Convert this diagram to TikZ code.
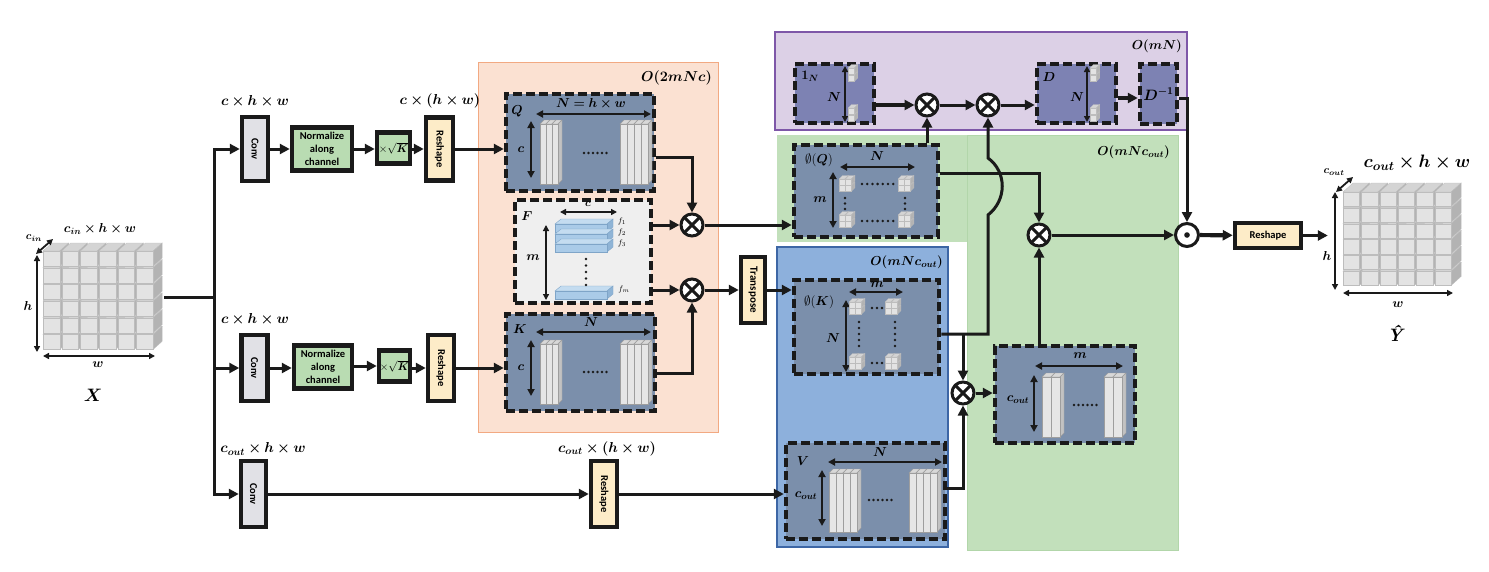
\RequirePackage{fix-cm}
\documentclass[tikz,border=0pt]{standalone}
\usepackage{amsmath}
\usepackage{bm}
\usepackage{fontspec}
\newfontfamily\calfont{Carlito}
\usetikzlibrary{arrows.meta,calc}
\definecolor{slate}{HTML}{7B8FAB}
\definecolor{pslate}{HTML}{7D82B3}
\definecolor{orangeF}{HTML}{FBE1D2}
\definecolor{orangeB}{HTML}{F2A982}
\definecolor{purpleF}{HTML}{DCD0E6}
\definecolor{purpleB}{HTML}{7E57A8}
\definecolor{blueF}{HTML}{8DB0DC}
\definecolor{blueB}{HTML}{3D66A5}
\definecolor{greenF}{HTML}{C2E0BB}
\definecolor{greenB}{HTML}{B2D6AA}
\definecolor{fgray}{HTML}{EFEFEF}
\definecolor{normF}{HTML}{B9DCB2}
\definecolor{reshF}{HTML}{FDECC8}
\definecolor{convF}{HTML}{E1E1E6}
\definecolor{cubeF}{HTML}{E3E3E3}
\definecolor{cubeT}{HTML}{D4D4D4}
\definecolor{cubeR}{HTML}{B3B3B3}
\definecolor{cubeS}{HTML}{BDBDBD}
\definecolor{plateF}{HTML}{E6E6E6}
\definecolor{plateT}{HTML}{D8D8D8}
\definecolor{plateR}{HTML}{C2C2C2}
\definecolor{plateS}{HTML}{9E9E9E}
\definecolor{flatF}{HTML}{AACBE8}
\definecolor{flatT}{HTML}{C4DCF0}
\definecolor{flatR}{HTML}{8FB4D6}
\definecolor{flatS}{HTML}{7FA5C8}
\definecolor{ink}{HTML}{1A1A1A}

\newcommand\mycubes[8]{%
 \foreach \r in {#4,...,1}{%
  \foreach \c in {1,...,#3}{%
   \pgfmathsetmacro\xa{#1+(\c-1)*#5}%
   \pgfmathsetmacro\ya{#2+(\r-1)*#6}%
   \pgfmathsetmacro\fw{#5*0.9}%
   \pgfmathsetmacro\fh{#6*0.9}%
   \path[fill=cubeT,draw=cubeS,line width=0.3pt] (\xa,\ya) -- ++(#7,-#8) -- ++(\fw,0) -- ++(-#7,#8) -- cycle;
   \path[fill=cubeR,draw=cubeS,line width=0.3pt] (\xa+\fw,\ya) -- ++(#7,-#8) -- ++(0,\fh) -- ++(-#7,#8) -- cycle;
   \path[fill=cubeF,draw=cubeS,line width=0.3pt] (\xa,\ya) rectangle ++(\fw,\fh);
 }}}

\newcommand\myplates[5]{%
 \foreach \i in {1,...,#3}{%
  \pgfmathsetmacro\xa{#1+(\i-1)*#4}%
  \path[fill=plateT,draw=plateS,line width=0.4pt] (\xa,#2+4) -- ++(4,-4) -- ++(#4,0) -- ++(-4,4) -- cycle;
  \path[fill=plateR,draw=plateS,line width=0.4pt] (\xa+#4,#2+4) -- ++(4,-4) -- ++(0,#5-4) -- ++(-4,4) -- cycle;
  \path[fill=plateF,draw=plateS,line width=0.4pt] (\xa,#2+4) rectangle ++(#4,#5-4);
 }}

\newcommand\myflat[3]{%
  \path[fill=flatT,draw=flatS,line width=0.4pt] (#1,#2) -- ++(6,-5) -- ++(#3,0) -- ++(-6,5) -- cycle;
  \path[fill=flatR,draw=flatS,line width=0.4pt] (#1+#3,#2) -- ++(6,-5) -- ++(0,8) -- ++(-6,5) -- cycle;
  \path[fill=flatF,draw=flatS,line width=0.4pt] (#1,#2) rectangle ++(#3,8);
}

\begin{document}
\begin{tikzpicture}[x=1pt,y=-1pt,
  conn/.style={draw=ink,line width=3pt},
  thickconn/.style={draw=ink,line width=4.2pt},
  arr/.style={-{Triangle[length=10pt,width=10pt]}},
  sbox/.style={draw=ink,line width=4.5pt,inner sep=0pt},
  dbox/.style={draw=ink,line width=4.5pt,dash pattern=on 9pt off 4pt,fill=slate,inner sep=0pt},
  dim/.style={draw=ink,line width=2.1pt,{Triangle[length=7pt,width=7pt]}-{Triangle[length=7pt,width=7pt]}},
  thindim/.style={draw=ink,line width=1.3pt,{Triangle[length=6pt,width=6pt]}-{Triangle[length=6pt,width=6pt]}},
  ml/.style={inner sep=0pt,font=\fontsize{13}{13}\selectfont},
  bigl/.style={inner sep=0pt,font=\fontsize{14.4}{14.4}\selectfont},
  rtxt/.style={inner sep=0pt,rotate=-90,font=\calfont\bfseries\fontsize{10.5}{10.5}\selectfont},
  otimes/.style={circle,draw=ink,line width=3pt,minimum size=22pt,inner sep=0pt,fill=white,
    path picture={\draw[ink,line width=3pt] (path picture bounding box.north west) -- (path picture bounding box.south east)
      (path picture bounding box.north east) -- (path picture bounding box.south west);}},
  odotst/.style={circle,draw=ink,line width=3pt,minimum size=23pt,inner sep=0pt,fill=white,
    path picture={\fill[ink] (path picture bounding box.center) circle (2.8pt);}}
]
\useasboundingbox (0,0) rectangle (1489,571);

% ---------- regions
\path[fill=orangeF,draw=orangeB,line width=1pt] (478,62) rectangle (718,432);
\path[fill=greenF] (777,135) rectangle (1178,242);
\path[fill=greenF,draw=greenB,line width=1pt] (967,135) rectangle (1178,550);
\path[fill=purpleF,draw=purpleB,line width=1.2pt] (775,32) rectangle (1187,130);
\path[fill=blueF,draw=blueB,line width=1.2pt] (777,247) rectangle (948,547);
\node[bigl,anchor=east] (lo1) at (712,78) {$\bm{O(2mNc)}$};
\node[ml,anchor=east] (lo2) at (1182,46) {$\bm{O(mN)}$};
\node[ml,anchor=east] (lo3) at (1170,152) {$\bm{O(mNc_{out})}$};
\node[ml,anchor=east] (lo4) at (943,262) {$\bm{O(mNc_{out})}$};

% ---------- input cube
\mycubes{43}{251}{6}{6}{18.67}{16.67}{9}{8}
\node[inner sep=0pt,minimum width=121pt,minimum height=107pt] (inp) at (103.5,297) {};
\draw[thindim,line width=1.8pt] (37,255) -- (37,352);
\draw[thindim,line width=1.8pt] (43,356) -- (155,356);
\draw[thindim,line width=1.8pt] (36,254) -- (53,239);
\node[ml] (lh1) at (28,306) {$\bm{h}$};
\node[ml] (lw1) at (98,365) {$\bm{w}$};
\node[ml] (lc1) at (100,229) {$\bm{c_{in}\times h\times w}$};
\node[ml,font=\fontsize{11}{11}\selectfont] (lci) at (34,238) {$\bm{c_{in}}$};
\node[inner sep=0pt,font=\fontsize{18}{18}\selectfont] (lX) at (93,395) {$\bm{X}$};

% ---------- trunk
\coordinate (tr) at (214,297);
\draw[conn] (inp.east) -- (tr);

% row 1
\node[sbox,fill=convF,minimum width=26pt,minimum height=64pt] (conv1) at (255,149) {};
\node[rtxt] (conv1t) at (conv1) {Conv};
\node[sbox,fill=normF,minimum width=60pt,minimum height=43pt,align=center,
  font=\calfont\bfseries\fontsize{10.5}{13}\selectfont] (norm1) at (322,149) {Normalize\\along\\channel};
\node[sbox,fill=normF,minimum width=33pt,minimum height=31pt,font=\fontsize{11}{11}\selectfont] (sk1) at (393.5,148) {$\times\sqrt{\bm{K}}$};
\node[sbox,fill=reshF,minimum width=27pt,minimum height=63pt] (resh1) at (439.5,149) {};
\node[rtxt] (resh1t) at (resh1) {Reshape};
\node[bigl] (l1a) at (255,101) {$\bm{c\times h\times w}$};
\node[bigl] (l1b) at (440,101) {$\bm{c\times(h\times w)}$};

% row 2
\node[sbox,fill=convF,minimum width=26pt,minimum height=66pt] (conv2) at (254.5,368) {};
\node[rtxt] (conv2t) at (conv2) {Conv};
\node[sbox,fill=normF,minimum width=58pt,minimum height=43pt,align=center,
  font=\calfont\bfseries\fontsize{10.5}{13}\selectfont] (norm2) at (323,367) {Normalize\\along\\channel};
\node[sbox,fill=normF,minimum width=31pt,minimum height=31pt,font=\fontsize{11}{11}\selectfont] (sk2) at (394.5,366) {$\times\sqrt{\bm{K}}$};
\node[sbox,fill=reshF,minimum width=26pt,minimum height=66pt] (resh2) at (441,368) {};
\node[rtxt] (resh2t) at (resh2) {Reshape};
\node[bigl] (l2a) at (255,319) {$\bm{c\times h\times w}$};

% row 3
\node[sbox,fill=convF,minimum width=25pt,minimum height=66pt] (conv3) at (253.5,494) {};
\node[rtxt] (conv3t) at (conv3) {Conv};
\node[sbox,fill=reshF,minimum width=26pt,minimum height=66pt] (resh3) at (604,494) {};
\node[rtxt] (resh3t) at (resh3) {Reshape};
\node[bigl] (l3a) at (263,449) {$\bm{c_{out}\times h\times w}$};
\node[bigl] (l3b) at (607,449) {$\bm{c_{out}\times(h\times w)}$};

% ---------- Q, F, K
\node[dbox,minimum width=148pt,minimum height=97pt] (Q) at (580,142.5) {};
\node[dbox,fill=fgray,minimum width=136pt,minimum height=103pt] (F) at (583,251.5) {};
\node[dbox,minimum width=149pt,minimum height=97pt] (K) at (580.5,362.5) {};

% Q content
\node[ml] (tq) at (517,111) {$\bm{Q}$};
\draw[dim] (536,114) -- (651,114);
\node[ml] (tqn) at (591,104) {$\bm{N=h\times w}$};
\draw[dim] (531,121) -- (531,178);
\node[ml] (tqc) at (521,150) {$\bm{c}$};
\myplates{540}{120}{3}{6}{64}
\myplates{620}{120}{4}{7}{64}
\foreach \k in {0,...,5} \fill[ink] (584+\k*4.5,153) circle (1.4pt);

% F content
\node[ml] (tf) at (527,216) {$\bm{F}$};
\draw[thindim,line width=1.7pt] (560,212) -- (617,212);
\node[ml,font=\fontsize{11}{11}\selectfont] (tfc) at (588,204) {$\bm{c}$};
\draw[thindim] (546,225) -- (546,300);
\node[ml] (tfm) at (533,258) {$\bm{m}$};
\myflat{555}{224}{52}
\myflat{555}{234}{52}
\myflat{555}{244}{52}
\myflat{555}{291}{52}
\foreach \k in {0,...,4} \fill[ink] (586,259+\k*6.5) circle (1.4pt);
\node[inner sep=0pt,font=\fontsize{8}{8}\selectfont] (f1) at (622,221) {$f_1$};
\node[inner sep=0pt,font=\fontsize{8}{8}\selectfont] (f2) at (622,232) {$f_2$};
\node[inner sep=0pt,font=\fontsize{8}{8}\selectfont] (f3) at (622,243) {$f_3$};
\node[inner sep=0pt,font=\fontsize{8}{8}\selectfont] (fm) at (624,289) {$f_m$};

% K content
\node[ml] (tk) at (520,329) {$\bm{K}$};
\draw[dim] (536,332) -- (651,332);
\node[ml] (tkn) at (591,322) {$\bm{N}$};
\draw[dim] (531,340) -- (531,396);
\node[ml] (tkc) at (521,368) {$\bm{c}$};
\myplates{540}{340}{3}{6}{64}
\myplates{620}{340}{4}{7}{64}
\foreach \k in {0,...,5} \fill[ink] (584+\k*4.5,372) circle (1.4pt);

\node[otimes] (ot1) at (692,225) {};
\node[otimes] (ot2) at (692,290) {};
\node[sbox,fill=reshF,minimum width=24pt,minimum height=66pt] (tp) at (753,290) {};
\node[rtxt,font=\calfont\bfseries\fontsize{11}{11}\selectfont] (tpt) at (tp) {Transpose};

% ---------- purple
\node[dbox,fill=pslate,minimum width=79pt,minimum height=59pt] (oneN) at (834.5,93.5) {};
\node[ml] (t1n) at (810,76) {$\bm{1}_{\bm{N}}$};
\draw[thindim,line width=1.6pt] (845,66) -- (845,122);
\node[ml] (t1nn) at (834,97) {$\bm{N}$};
\mycubes{848}{68}{1}{2}{7}{7}{3.5}{3.5}
\mycubes{848}{108}{1}{2}{7}{7}{3.5}{3.5}
\node[otimes] (ota) at (927,105) {};
\node[otimes] (otb) at (988,105) {};
\node[dbox,fill=pslate,minimum width=79pt,minimum height=59pt] (D) at (1076.5,93.5) {};
\node[ml] (td) at (1049,77) {$\bm{D}$};
\draw[thindim,line width=1.6pt] (1087,66) -- (1087,122);
\node[ml] (tdn) at (1077,97) {$\bm{N}$};
\mycubes{1090}{68}{1}{2}{7}{7}{3.5}{3.5}
\mycubes{1090}{108}{1}{2}{7}{7}{3.5}{3.5}
\node[dbox,fill=pslate,minimum width=37pt,minimum height=60pt,font=\fontsize{15}{15}\selectfont] (Dinv) at (1158.5,94) {$\bm{D^{-1}}$};

% ---------- phi(Q)
\node[dbox,minimum width=144pt,minimum height=92pt] (phiQ) at (866,191) {};
\node[ml] (tpq) at (819,160) {$\emptyset(\bm{Q})$};
\draw[dim] (840,167) -- (915,167);
\node[ml] (tpqn) at (877,156) {$\bm{N}$};
\draw[dim] (833,172) -- (833,228);
\node[ml] (tpqm) at (820,200) {$\bm{m}$};
\mycubes{839}{179}{2}{2}{6.5}{6.5}{3.5}{3.5}
\mycubes{898}{179}{2}{2}{6.5}{6.5}{3.5}{3.5}
\mycubes{839}{215}{2}{2}{6.5}{6.5}{3.5}{3.5}
\mycubes{898}{215}{2}{2}{6.5}{6.5}{3.5}{3.5}
\foreach \k in {0,...,6} {\fill[ink] (862+\k*5.2,184) circle (1.4pt); \fill[ink] (862+\k*5.2,221) circle (1.4pt);}
\foreach \k in {0,...,2} {\fill[ink] (845,198+\k*5.5) circle (1.4pt); \fill[ink] (905,198+\k*5.5) circle (1.4pt);}

% ---------- phi(K)
\node[dbox,minimum width=145pt,minimum height=94pt] (phiK) at (866.5,327) {};
\node[ml] (tpk) at (819,302) {$\emptyset(\bm{K})$};
\draw[dim] (849,292) -- (903,292);
\node[ml] (tpkm) at (877,285) {$\bm{m}$};
\draw[dim] (846,300) -- (846,372);
\node[ml] (tpkn) at (833,338) {$\bm{N}$};
\mycubes{849}{302}{2}{2}{6.5}{6.5}{3.5}{3.5}
\mycubes{885}{302}{2}{2}{6.5}{6.5}{3.5}{3.5}
\mycubes{849}{357}{2}{2}{6.5}{6.5}{3.5}{3.5}
\mycubes{885}{357}{2}{2}{6.5}{6.5}{3.5}{3.5}
\foreach \k in {0,...,2} {\fill[ink] (872+\k*5,308) circle (1.4pt); \fill[ink] (872+\k*5,363) circle (1.4pt);}
\foreach \k in {0,...,4} {\fill[ink] (859,322+\k*6) circle (1.4pt); \fill[ink] (895,322+\k*6) circle (1.4pt);}

% ---------- V
\node[dbox,minimum width=159pt,minimum height=96pt] (V) at (865.5,491) {};
\node[ml] (tv) at (803,461) {$\bm{V}$};
\draw[dim] (828,462) -- (942,462);
\node[ml] (tvn) at (880,452) {$\bm{N}$};
\draw[dim] (822,470) -- (822,526);
\node[ml] (tvc) at (806,496) {$\bm{c_{out}}$};
\myplates{829}{469}{4}{7}{63}
\myplates{909}{469}{4}{7}{63}
\foreach \k in {0,...,5} \fill[ink] (869+\k*4.5,500) circle (1.4pt);

% ---------- c_out x m
\node[dbox,minimum width=140pt,minimum height=97pt] (cout) at (1065,394.5) {};
\node[ml] (tco) at (1018,400) {$\bm{c_{out}}$};
\draw[dim] (1035,366) -- (1123,366);
\node[ml] (tcom) at (1080,356) {$\bm{m}$};
\draw[dim] (1034,375) -- (1034,432);
\myplates{1042}{373}{2}{9}{64}
\myplates{1104}{373}{2}{9}{64}
\foreach \k in {0,...,5} \fill[ink] (1074+\k*4.5,405) circle (1.4pt);

\node[otimes] (otc) at (963,393) {};
\node[otimes] (otd) at (1039,235) {};
\node[odotst] (odt) at (1187,235) {};
\node[sbox,fill=reshF,minimum width=66pt,minimum height=25pt,font=\calfont\bfseries\fontsize{10.5}{10.5}\selectfont] (resh4) at (1268,235.5) {Reshape};

% ---------- output cube
\mycubes{1343}{192}{6}{6}{18.33}{15.83}{10}{9}
\node[inner sep=0pt,minimum width=136pt,minimum height=105pt] (outc) at (1396,236) {};
\draw[thindim,line width=1.8pt] (1335,192) -- (1335,290);
\draw[thindim,line width=1.8pt] (1343,293) -- (1453,293);
\draw[thindim,line width=1.8pt] (1336,192) -- (1353,177);
\node[ml] (loh) at (1327,256) {$\bm{h}$};
\node[ml] (low) at (1398,305) {$\bm{w}$};
\node[inner sep=0pt,font=\fontsize{18}{18}\selectfont] (loc) at (1417,163) {$\bm{c_{out}\times h\times w}$};
\node[inner sep=0pt,font=\fontsize{11}{11}\selectfont] (loci) at (1334,172) {$\bm{c_{out}}$};
\node[inner sep=0pt,font=\bfseries\itshape\fontsize{18}{18}\selectfont] (lY) at (1395,333) {Ŷ};

% ---------- connectors
\draw[conn,arr] (tr) |- (conv1);
\draw[conn,arr] (tr) |- (conv2);
\draw[conn,arr] (tr) |- (conv3);
\draw[conn,arr] (conv1) -- (norm1);
\draw[conn,arr] (norm1) -- (sk1.west |- norm1);
\draw[conn,arr] (sk1.east |- resh1) -- (resh1);
\draw[conn,arr] (resh1) -- (Q.west |- resh1);
\draw[conn,arr] (conv2) -- (norm2.west |- conv2);
\draw[conn,arr] (norm2.east |- sk2) -- (sk2);
\draw[conn,arr] (sk2.east |- resh2) -- (resh2);
\draw[conn,arr] (resh2) -- (K.west |- resh2);
\draw[conn,arr] (conv3) -- (resh3);
\draw[conn,arr] (resh3) -- (V.west |- resh3);

\coordinate (qo) at (0,157);
\coordinate (ko) at (0,373);
\draw[conn,arr] (Q.east |- qo) -| (ot1);
\draw[conn,arr] (F.east |- ot1) -- (ot1);
\draw[conn,arr] (F.east |- ot2) -- (ot2);
\draw[conn,arr] (K.east |- ko) -| (ot2);
\draw[conn,arr] (ot1) -- (phiQ.west |- ot1);
\draw[conn,arr] (ot2) -- (tp);
\draw[conn,arr] (tp) -- (phiK.west |- tp);

\draw[thickconn,arr] (oneN.east |- ota) -- (ota);
\draw[conn,arr] (ota) -- (otb);
\draw[conn,arr] (otb) -- (D.west |- otb);
\coordinate (dd) at (0,98);
\draw[thickconn,arr] (D.east |- dd) -- (Dinv.west |- dd);
\draw[conn,arr] (Dinv.east |- dd) -| (odt);
\draw[conn,arr] (phiQ.north -| ota) -- (ota);

\coordinate (pq) at (0,173);
\draw[conn,arr] (phiQ.east |- pq) -| (otd);
\coordinate (pk) at (0,334);
\coordinate (hb) at (988,215);
\coordinate (ht) at (988,158);
\draw[conn,arr] (phiK.east |- pk) -| (hb) .. controls (1007,200) and (1007,172) .. (ht) -- (otb);
\coordinate (br) at (963,334);
\draw[conn,arr] (br) -- (otc);
\coordinate (vo) at (0,488);
\draw[conn,arr] (V.east |- vo) -| (otc);
\draw[conn,arr] (otc) -- (cout.west |- otc);
\draw[conn,arr] (cout.north -| otd) -- (otd);
\draw[conn,arr] (otd) -- (odt);
\draw[thickconn,arr] (odt) -- (resh4);
\draw[conn,arr] (resh4) -- (outc.west |- resh4);
\end{tikzpicture}
\end{document}
